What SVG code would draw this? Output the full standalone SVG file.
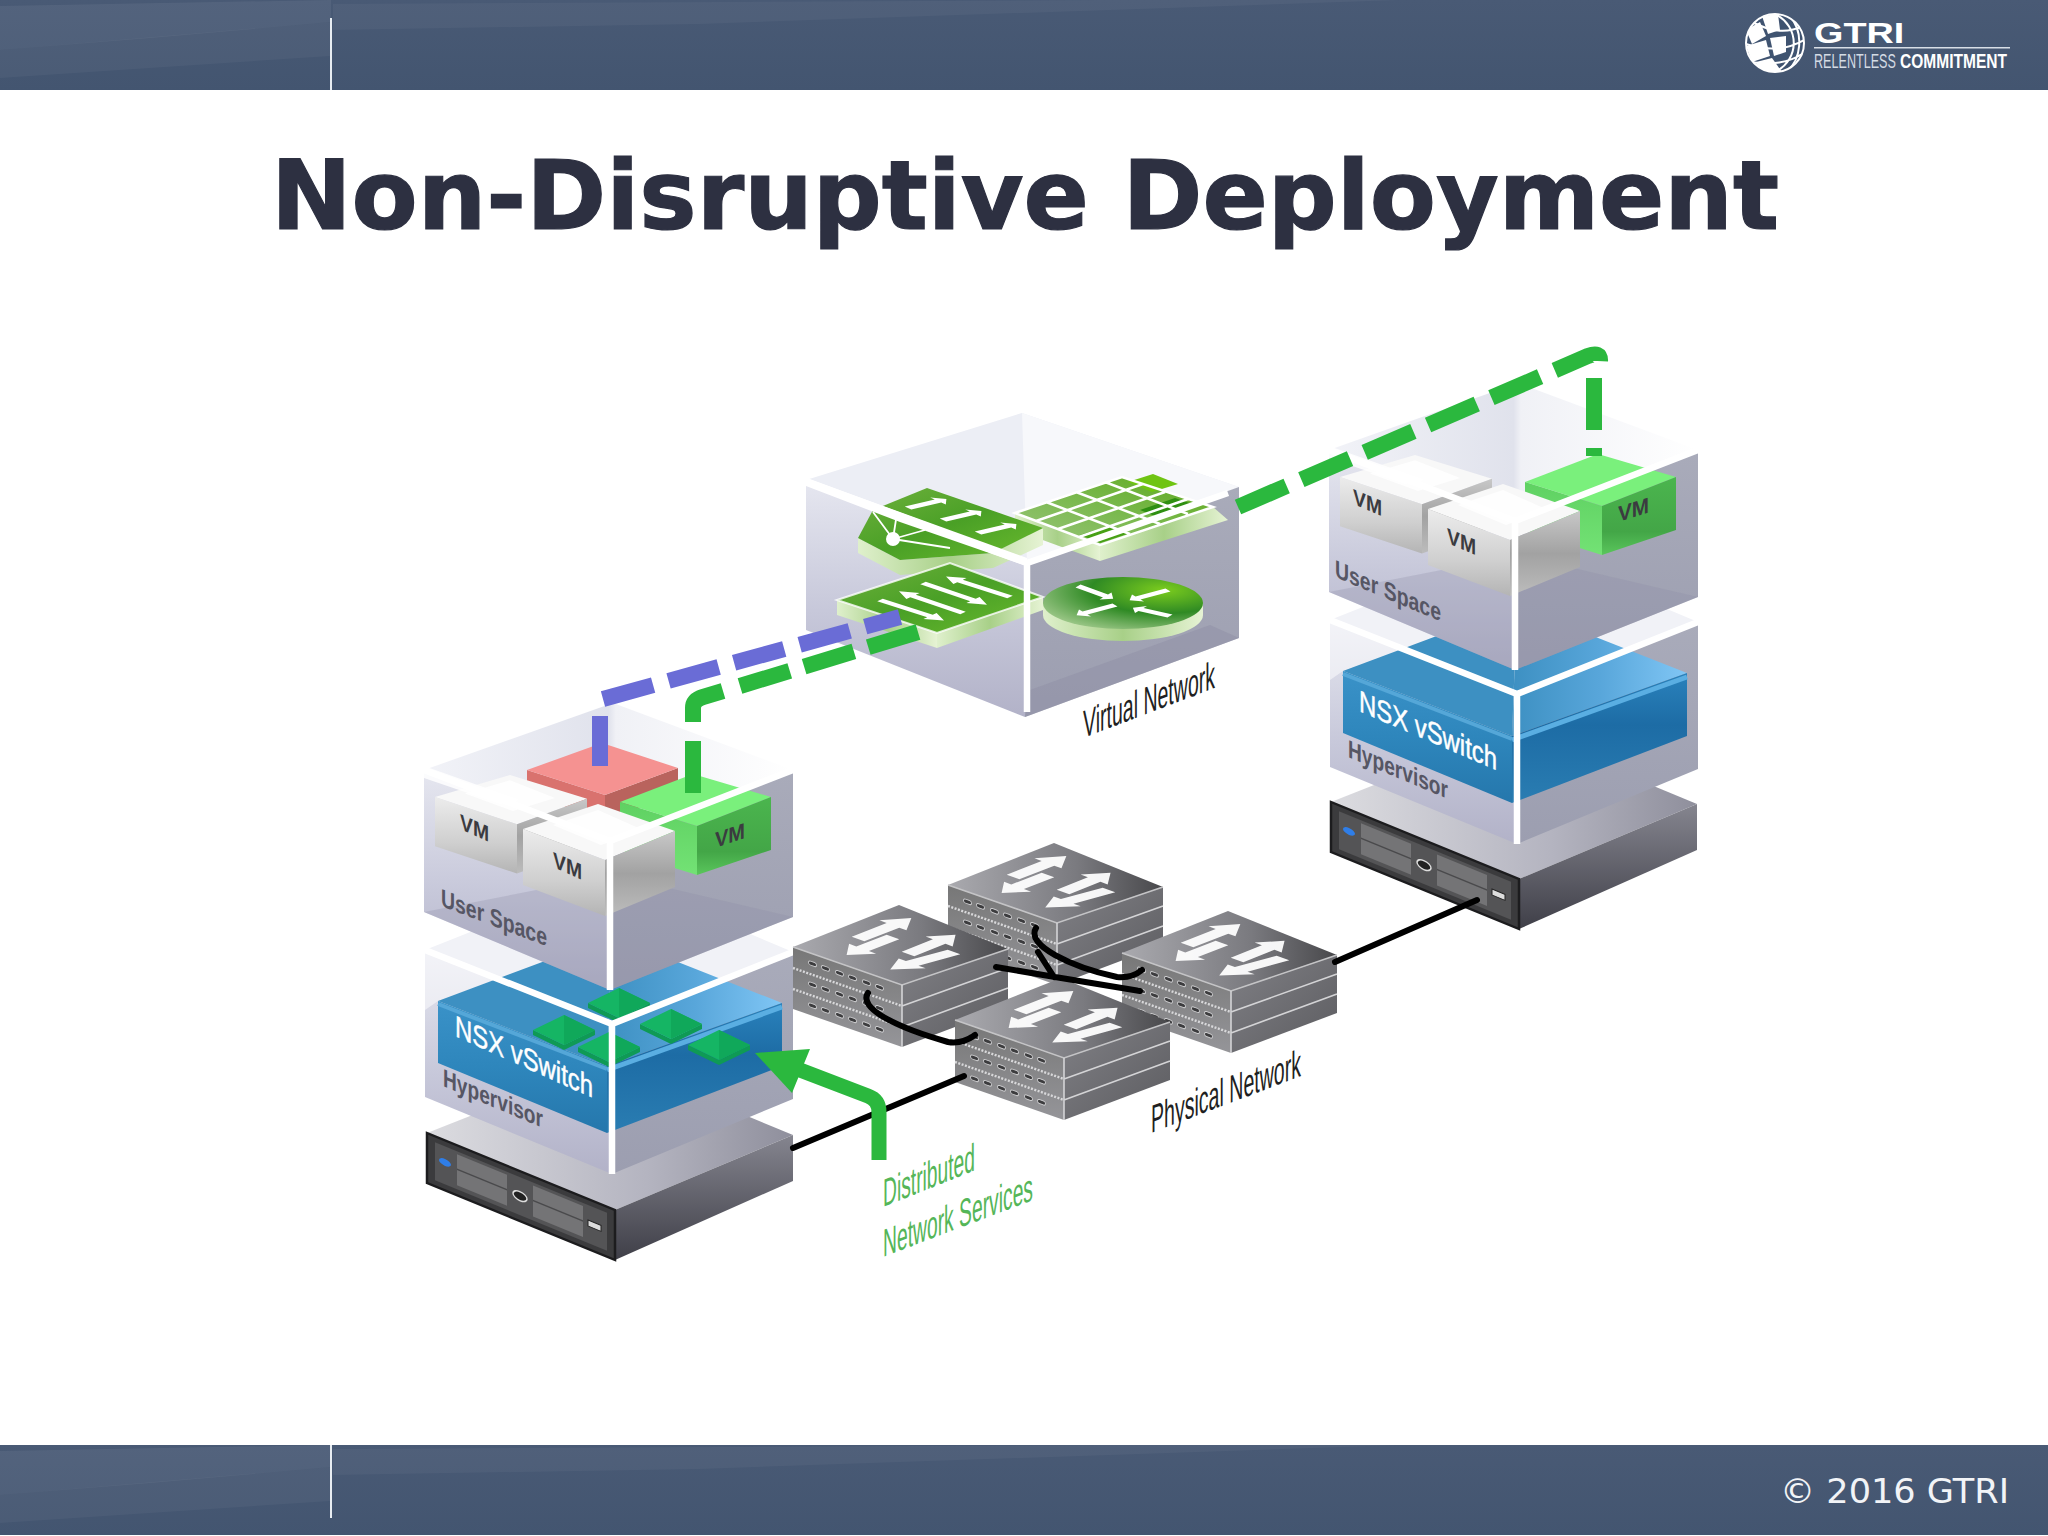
<svg xmlns="http://www.w3.org/2000/svg" xmlns:xlink="http://www.w3.org/1999/xlink" width="2048" height="1536" viewBox="0 0 2048 1536">
<style>
.s{font-family:"Liberation Sans",Arial,sans-serif}
.lab{font-weight:bold;fill:#565664;font-size:25px}
.vm{font-weight:bold;fill:#3b3b40;font-size:22px}
.nsx{fill:#fff;stroke:#fff;stroke-width:.5;font-size:30px}
.iso{fill:#1f1f22;font-size:39px}
.grn{fill:#55b658;font-size:39px}
.wl{fill:none;stroke:#fff;stroke-width:6.5}
.ws{fill:none;stroke:#fff}
.cable{fill:none;stroke:#000;stroke-width:6;stroke-linecap:round}
.dg{fill:none;stroke:#2bb83e;stroke-width:16}
.db{fill:none;stroke:#6a6cd6;stroke-width:16}
.gfont{font-family:"DejaVu Sans",Verdana,sans-serif}
</style>
<defs>
<linearGradient id="bar" x1="0" y1="0" x2="0" y2="1"><stop offset="0" stop-color="#495a75"/><stop offset="1" stop-color="#435570"/></linearGradient>
<linearGradient id="glassL" x1="0" y1="0" x2="0" y2="1"><stop offset="0" stop-color="#e6e7f0"/><stop offset=".55" stop-color="#c7c8da"/><stop offset="1" stop-color="#b2b2c8"/></linearGradient>
<linearGradient id="glassR" x1="0" y1="0" x2="0" y2="1"><stop offset="0" stop-color="#a9abba"/><stop offset="1" stop-color="#9c9eb0"/></linearGradient>
<linearGradient id="glassT" x1="0" y1="0" x2="1" y2="0"><stop offset="0" stop-color="#f2f3f8"/><stop offset=".5" stop-color="#e0e2ec"/><stop offset=".52" stop-color="#f0f1f6"/><stop offset="1" stop-color="#fff"/></linearGradient>
<linearGradient id="vmL" x1="0" y1="0" x2="0" y2="1"><stop offset="0" stop-color="#ececec"/><stop offset=".6" stop-color="#cfcfcf"/><stop offset="1" stop-color="#b4b4b4"/></linearGradient>
<linearGradient id="vmR" x1="0" y1="0" x2="0" y2="1"><stop offset="0" stop-color="#c8c8c8"/><stop offset=".5" stop-color="#a2a2a2"/><stop offset="1" stop-color="#bcbcbc"/></linearGradient>
<linearGradient id="gL" x1="0" y1="0" x2="0" y2="1"><stop offset="0" stop-color="#5fd162"/><stop offset="1" stop-color="#73e275"/></linearGradient>
<linearGradient id="gR" x1="0" y1="0" x2="0" y2="1"><stop offset="0" stop-color="#4bb54e"/><stop offset=".7" stop-color="#43a647"/><stop offset="1" stop-color="#5ac65c"/></linearGradient>
<linearGradient id="blueL" x1="0" y1="0" x2="0" y2="1"><stop offset="0" stop-color="#3a92c8"/><stop offset=".5" stop-color="#2e86bc"/><stop offset="1" stop-color="#2577ac"/></linearGradient>
<linearGradient id="blueR" x1="0" y1="0" x2="0" y2="1"><stop offset="0" stop-color="#2a82bc"/><stop offset=".4" stop-color="#1d6ca5"/><stop offset="1" stop-color="#2a7db2"/></linearGradient>
<linearGradient id="blueT" x1="0" y1="0" x2="1" y2="0"><stop offset="0" stop-color="#3d90c2"/><stop offset=".5" stop-color="#58a6da"/><stop offset="1" stop-color="#80c6f5"/></linearGradient>
<linearGradient id="srvT" x1="0" y1="0" x2="1" y2="0"><stop offset="0" stop-color="#dcdce0"/><stop offset=".6" stop-color="#b4b4c0"/><stop offset="1" stop-color="#8f8f9c"/></linearGradient>
<linearGradient id="srvR" x1="0" y1="0" x2="0" y2="1"><stop offset="0" stop-color="#85858f"/><stop offset="1" stop-color="#3f3f48"/></linearGradient>
<linearGradient id="swT" x1="0" y1="0" x2="1" y2="0"><stop offset="0" stop-color="#aaaaaf"/><stop offset=".6" stop-color="#7a7a7f"/><stop offset="1" stop-color="#48484b"/></linearGradient>
<linearGradient id="swL" x1="0" y1="0" x2="0" y2="1"><stop offset="0" stop-color="#777"/><stop offset="1" stop-color="#959599"/></linearGradient>
<linearGradient id="swR" x1="0" y1="0" x2="1" y2="1"><stop offset="0" stop-color="#808085"/><stop offset="1" stop-color="#5c5c60"/></linearGradient>
<linearGradient id="lime" x1="0" y1="0" x2="1" y2="0"><stop offset="0" stop-color="#dff0cc"/><stop offset=".5" stop-color="#a8d088"/><stop offset="1" stop-color="#e6f3d4"/></linearGradient>
<linearGradient id="leaf" x1="0" y1="0" x2="1" y2="1"><stop offset="0" stop-color="#6fb13d"/><stop offset=".5" stop-color="#4aa026"/><stop offset="1" stop-color="#6bbb2e"/></linearGradient>
<linearGradient id="leaf2" x1="0" y1="1" x2="1" y2="0"><stop offset="0" stop-color="#9ac57c"/><stop offset=".5" stop-color="#7ab94e"/><stop offset="1" stop-color="#5ca81a"/></linearGradient>
<radialGradient id="disc" cx=".75" cy=".25" r=".9"><stop offset="0" stop-color="#7bcc1e"/><stop offset=".5" stop-color="#2f8a24"/><stop offset="1" stop-color="#a5cc90"/></radialGradient>
<clipPath id="gl"><circle cx="1775" cy="43" r="29"/></clipPath>

<g id="band">
<rect width="2048" height="90" fill="url(#bar)"/>
<polygon points="0,6 331,0 331,22 150,38 0,50" fill="#fff" opacity=".06"/>
<polygon points="0,50 331,22 331,56 120,70 0,78" fill="#fff" opacity=".04"/>
<polygon points="333,4 1100,0 1400,0 700,24 333,30" fill="#fff" opacity=".04"/>
</g>

<g id="vmGray">
<polygon points="0,0 75,-25 152,2 82,31" fill="#f8f8f8"/>
<polygon points="30,-4 75,-19 120,1 78,16" fill="#fefefe"/>
<polygon points="0,0 82,31 82,87 0,56" fill="url(#vmL)"/>
<polygon points="82,31 152,2 152,58 82,87" fill="url(#vmR)"/>
</g>
<g id="vmGreen">
<polygon points="620,802 693,774 771,797 697,826" fill="#7af07c"/>
<polygon points="620,802 697,826 697,875 620,851" fill="url(#gL)"/>
<polygon points="697,826 771,797 771,850 697,875" fill="url(#gR)"/>
</g>
<g id="userBack">
<polygon points="424,770 613,703 793,770 610,841" fill="url(#glassT)"/>
<polygon points="424,770 610,841 610,990 424,912" fill="url(#glassL)"/>
<polygon points="793,770 610,841 610,990 793,917" fill="url(#glassR)"/>
<polygon points="424,912 613,875 793,917 610,990" fill="#8b8ca6" opacity=".28"/>
</g>
<g id="userFront">
<polygon points="424,766 520,800 500,804 424,778" fill="#fff" opacity=".85"/>
<path class="wl" d="M424,770 L610,841 L793,770 M610,841 V990"/>
</g>
<g id="hyperBack">
<polygon points="425,950 612,876 793,952 612,1024" fill="#f1f2f7"/>
<polygon points="425,950 612,1024 612,1174 425,1097" fill="url(#glassL)"/>
<polygon points="793,952 612,1024 612,1174 793,1099" fill="url(#glassR)"/>
<polygon points="425,950 500,980 438,1001 425,1010" fill="#fff" opacity=".5"/>
<polygon points="438,1001 612,936 607,1066" fill="#3d90c2"/>
<polygon points="612,936 782,1003 607,1066" fill="url(#blueT)"/>
<polygon points="438,1001 607,1066 607,1133 438,1063" fill="url(#blueL)"/>
<polygon points="607,1066 782,1003 782,1066 607,1133" fill="url(#blueR)"/>
<path d="M607,1070 L782,1007" fill="none" stroke="#5aaee2" stroke-width="5"/>
<path d="M438,1004 L607,1069" fill="none" stroke="#55a7d8" stroke-width="4"/>
</g>
<g id="hyperFront">
<path class="wl" d="M425,950 L612,1024 L793,952 M612,1024 V1174"/>
</g>
<g id="server">
<polygon points="427,1133 612,1060 793,1135 615,1210" fill="url(#srvT)"/>
<polygon points="615,1210 793,1135 793,1181 615,1260" fill="url(#srvR)"/>
<g transform="matrix(1 .41 0 1 427 1133)">
<rect width="188" height="50" fill="#3b3b3d" stroke="#1c1c1e" stroke-width="2.5"/>
<rect x="8" y="6" width="172" height="38" fill="#545456"/>
<rect x="30" y="9" width="50" height="31" fill="#747476"/>
<rect x="106" y="9" width="50" height="31" fill="#747476"/>
<path d="M30,24 H80 M106,24 H156" stroke="#4a4a4c" stroke-width="1.5"/>
<ellipse cx="18" cy="22" rx="6" ry="3.5" fill="#2f7ee8"/>
<ellipse cx="93" cy="25" rx="7" ry="4.5" fill="#222" stroke="#ddd" stroke-width="1.5"/>
<rect x="161" y="21" width="13" height="6" fill="#ddd" stroke="#222"/>
</g>
</g>
<g id="tile">
<polygon points="0,0 31,15 62,0 62,5 31,20 0,5" fill="#0f9a55"/>
<polygon points="0,0 31,-15 62,0 31,15" fill="#15b564"/>
<polygon points="31,-15 62,0 31,15" fill="#10a85a"/>
</g>
<path id="fat" d="M0,-7 H38 V-15 L58,0 L38,15 V7 H0Z" fill="#fff" opacity=".94"/>
<g id="port"><rect x="-3.5" y="-2" width="8" height="4" rx="2" fill="#3c3c3e" stroke="#cfcfd1" stroke-width=".9"/></g>
<g id="portrow">
<use href="#port" x="19"/><use href="#port" x="32"/><use href="#port" x="46"/><use href="#port" x="59"/><use href="#port" x="73"/><use href="#port" x="86"/>
</g>
<g id="sw">
<polygon points="0,0 109,38 109,100 0,62" fill="url(#swL)"/>
<polygon points="109,38 215,2 215,60 109,100" fill="url(#swR)"/>
<polygon points="0,0 106,-42 215,2 109,38" fill="url(#swT)"/>
<path d="M0,0 L109,38 L215,2" fill="none" stroke="#c4c4c6" stroke-width="1.6"/>
<path d="M109,38 V100 M109,59 L215,21 M109,80 L215,41" fill="none" stroke="#d4d4d6" stroke-width="1.6"/>
<path d="M0,21 L109,59 M0,42 L109,80" fill="none" stroke="#d8d8da" stroke-width="2.4" stroke-dasharray="2 1.5"/>
<g transform="matrix(1 .35 0 1 0 0)">
<use href="#portrow" y="10"/><use href="#portrow" y="31"/><use href="#portrow" y="52"/>
</g>
<use href="#fat" transform="matrix(.92 -.36 .9 .33 65 -8)"/>
<use href="#fat" transform="matrix(.82 -.33 .9 .33 115 7)"/>
<use href="#fat" transform="matrix(-.8 .31 .9 .33 100 -10)"/>
<use href="#fat" transform="matrix(-1.1 .3 .9 .33 161 5)"/>
</g>
<path id="thin" d="M0,-2.5 H50 V-6 L64,0 L50,6 V2.5 H0Z" fill="#fff"/>
</defs>

<rect width="2048" height="1536" fill="#fff"/>

<g id="header">
<use href="#band"/>
<rect x="330" y="18" width="2" height="72" fill="#e8edf2"/>
<g id="logo">
<circle cx="1775" cy="43" r="29" fill="#3f5370" stroke="#fff" stroke-width="2"/>
<g clip-path="url(#gl)">
<polygon points="1746,30 1760,22 1766,36 1752,44" fill="#fff"/>
<polygon points="1762,16 1778,14 1780,30 1768,34" fill="#fff"/>
<polygon points="1746,46 1766,40 1770,56 1752,62" fill="#fff"/>
<polygon points="1770,38 1786,36 1786,52 1774,56" fill="#fff"/>
<polygon points="1756,62 1772,58 1782,72 1760,72" fill="#fff"/>
<path d="M1775,14 C1800,26 1800,60 1775,72 M1752,22 C1775,34 1790,32 1804,26 M1746,44 C1770,52 1790,48 1804,40 M1752,62 C1770,66 1790,62 1802,54 M1790,16 C1805,34 1800,60 1788,70" fill="none" stroke="#fff" stroke-width="2"/>
</g>
</g>
<text class="s" transform="translate(1814 43) scale(1.26 1)" font-size="30" font-weight="bold" fill="#fff">GTRI</text>
<rect x="1814" y="47" width="196" height="1.5" fill="#d8dee6"/>
<text class="s" transform="translate(1814 68) scale(.6 1)" font-size="21" fill="#d4dbe4">RELENTLESS</text>
<text class="s" transform="translate(1900 68) scale(.74 1)" font-size="21" font-weight="bold" fill="#fff">COMMITMENT</text>
</g>

<g id="footer">
<use href="#band" y="1445"/>
<rect x="330" y="1445" width="2" height="73" fill="#e8edf2"/>
<text class="gfont" x="1780" y="1503" font-size="34" fill="#f2f4f7" textLength="229" lengthAdjust="spacingAndGlyphs">© 2016 GTRI</text>
</g>

<text id="title" class="gfont" x="271" y="229" font-size="96" font-weight="bold" fill="#2d3041" stroke="#2d3041" stroke-width="1.2" textLength="1508" lengthAdjust="spacingAndGlyphs">Non-Disruptive Deployment</text>

<g id="virtual-network">
<polygon points="806,480 1022,413 1239,487 1027,563" fill="#eceef5"/>
<polygon points="1022,413 1239,487 1027,563" fill="#f7f8fb"/>
<polygon points="806,480 1027,563 1025,717 806,630" fill="url(#glassL)"/>
<polygon points="1239,487 1027,563 1025,717 1239,638" fill="url(#glassR)"/>
<polygon points="1025,717 1239,638 1210,625 1030,690" fill="#8f90a5" opacity=".5"/>
<g id="vn-table">
<polygon points="1015,513 1100,545 1100,561 1015,530" fill="url(#lime)"/>
<polygon points="1100,545 1213,507 1228,520 1100,561" fill="url(#lime)"/>
<polygon points="1015,513 1122,477 1213,507 1100,545" fill="url(#leaf2)"/>
<polygon points="1128,482 1153,474 1178,484 1152,492" fill="#6fc412"/>
<polygon points="1140,510 1175,498 1195,505 1160,518" fill="#2f8f12"/>
<polygon points="1080,535 1110,525 1130,533 1100,543" fill="#47a015"/>
<path d="M1015,513 L1122,477 L1213,507 L1100,545 Z M1046,502 L1130,534 M1076,492 L1160,524 M1105,482 L1188,514 M1036,521 L1143,484 M1058,529 L1165,492 M1079,537 L1188,499" class="ws" stroke-width="2.5"/>
</g>
<g id="vn-firewall">
<polygon points="858,538 900,560 993,553 1043,528 1043,545 993,568 900,575 858,553" fill="url(#lime)"/>
<polygon points="858,538 873,510 927,488 1043,528 993,553 900,560" fill="url(#leaf)"/>
<path d="M893,539 L897,513 M893,539 L873,512 M893,539 L925,530 M893,539 L950,548" class="ws" stroke-width="1.8"/>
<circle cx="893" cy="539" r="7" fill="#fff"/>
<use href="#thin" transform="matrix(.6 -.14 1.3 .6 908 508)"/>
<use href="#thin" transform="matrix(.6 -.14 1.3 .6 943 520)"/>
<use href="#thin" transform="matrix(.6 -.14 1.3 .6 978 533)"/>
</g>
<g id="vn-switch">
<polygon points="837,600 937,633 937,648 837,615" fill="url(#lime)"/>
<polygon points="937,633 1043,597 1043,610 937,648" fill="url(#lime)"/>
<polygon points="837,600 950,563 1043,597 937,633" fill="url(#leaf)"/>
<path d="M837,600 L950,563 L1043,597 L937,633 Z" class="ws" stroke-width="2" opacity=".8"/>
<use href="#thin" transform="matrix(1 .32 -1.1 .5 880 600)"/>
<use href="#thin" transform="matrix(-1 -.34 1.1 -.5 963 613)"/>
<use href="#thin" transform="matrix(1 .34 -1.1 .5 923 583)"/>
<use href="#thin" transform="matrix(-1 -.32 1.1 -.5 1010 597)"/>
</g>
<g id="vn-router">
<path d="M1043,603 V615 A80,26 0 0 0 1203,615 V603Z" fill="url(#lime)"/>
<ellipse cx="1123" cy="603" rx="80" ry="26" fill="url(#disc)"/>
<use href="#thin" transform="matrix(.55 .2 -1 .6 1078 586)"/>
<use href="#thin" transform="matrix(-.6 .16 -1 -.6 1168 590)"/>
<use href="#thin" transform="matrix(-.6 .16 -1 -.6 1115 605)"/>
<use href="#thin" transform="matrix(-.58 -.13 1 -.6 1170 616)"/>
</g>
<polygon points="806,478 1027,558 1027,566 900,522 806,486" fill="#fff"/>
<path class="wl" d="M806,481 L1027,563 L1228,493 M1027,563 V712"/>
<text class="s iso" transform="matrix(1 -.38 0 1 1083 738)" textLength="132" lengthAdjust="spacingAndGlyphs">Virtual Network</text>
</g>

<g id="host-left">
<use href="#server"/>
<use href="#hyperBack"/>
<use href="#tile" x="588" y="1003"/><use href="#tile" x="533" y="1030"/><use href="#tile" x="640" y="1024"/><use href="#tile" x="688" y="1045"/><use href="#tile" x="578" y="1047"/>
<use href="#hyperFront"/>
<text class="s lab" transform="matrix(1 .42 0 1 443 1086)" textLength="100" lengthAdjust="spacingAndGlyphs">Hypervisor</text>
<text class="s nsx" transform="matrix(1 .45 0 1 455 1036)" textLength="138" lengthAdjust="spacingAndGlyphs">NSX vSwitch</text>
<use href="#userBack"/>
<g id="vm-red">
<polygon points="527,770 605,795 605,820 527,795" fill="#d9726e"/>
<polygon points="605,795 678,768 678,793 605,820" fill="#b9635d"/>
<polygon points="527,770 602,743 678,768 605,795" fill="#f59291"/>
</g>
<use href="#vmGreen"/>
<g transform="translate(435 797) scale(1 .88)"><use href="#vmGray"/></g>
<use href="#vmGray" x="523" y="829"/>
<use href="#userFront"/>
<text class="s vm" transform="matrix(1 .45 0 1 460 829)" textLength="29" lengthAdjust="spacingAndGlyphs">VM</text>
<text class="s vm" transform="matrix(1 .45 0 1 553 867)" textLength="29" lengthAdjust="spacingAndGlyphs">VM</text>
<text class="s vm" transform="matrix(1 -.33 0 1 715 848)" textLength="30" lengthAdjust="spacingAndGlyphs">VM</text>
<text class="s lab" transform="matrix(1 .38 0 1 441 906)" textLength="106" lengthAdjust="spacingAndGlyphs">User Space</text>
</g>

<g id="host-right">
<use href="#server" transform="translate(904 -331)"/>
<use href="#hyperBack" transform="translate(905 -330)"/>
<use href="#hyperFront" transform="translate(905 -330)"/>
<text class="s lab" transform="matrix(1 .42 0 1 1348 757)" textLength="100" lengthAdjust="spacingAndGlyphs">Hypervisor</text>
<text class="s nsx" transform="matrix(1 .43 0 1 1359 711)" textLength="138" lengthAdjust="spacingAndGlyphs">NSX vSwitch</text>
<use href="#userBack" transform="translate(905 -320)"/>
<use href="#vmGreen" transform="translate(905 -320)"/>
<g transform="translate(1340 477) scale(1 .88)"><use href="#vmGray"/></g>
<use href="#vmGray" x="1428" y="509"/>
<use href="#userFront" transform="translate(905 -320)"/>
<text class="s vm" transform="matrix(1 .42 0 1 1353 504)" textLength="29" lengthAdjust="spacingAndGlyphs">VM</text>
<text class="s vm" transform="matrix(1 .42 0 1 1447 543)" textLength="29" lengthAdjust="spacingAndGlyphs">VM</text>
<text class="s vm" transform="matrix(1 -.31 0 1 1618 522)" textLength="31" lengthAdjust="spacingAndGlyphs">VM</text>
<text class="s lab" transform="matrix(1 .42 0 1 1335 577)" textLength="106" lengthAdjust="spacingAndGlyphs">User Space</text>
</g>

<g id="physical-network">
<use id="switch-back" href="#sw" x="948" y="885"/>
<use id="switch-left" href="#sw" x="793" y="947"/>
<use id="switch-right" href="#sw" x="1122" y="953"/>
<use id="switch-front" href="#sw" x="955" y="1020"/>
<text class="s iso" transform="matrix(1 -.38 0 1 1151 1133)" textLength="150" lengthAdjust="spacingAndGlyphs">Physical Network</text>
</g>

<g id="connectors">
<path class="cable" d="M793,1148 L964,1076"/>
<path class="cable" d="M1335,962 L1477,900"/>
<path class="cable" d="M868,993 C858,1008 895,1027 948,1042 C960,1044 968,1040 975,1035"/>
<path class="cable" d="M1036,928 C1025,945 1071,967 1117,977 C1128,978 1136,975 1142,970"/>
<path class="cable" d="M996,967 L1055,977 L1140,991 M1038,952 L1054,977"/>
<path class="db" d="M600,766 V716"/>
<path class="db" d="M603,699 L900,617" stroke-dasharray="52 16"/>
<path class="dg" d="M693,793 V741"/>
<path class="dg" stroke-linejoin="round" d="M693,722 V708 Q693,700 703,697 L723,691"/>
<path class="dg" d="M740,686 L918,632" stroke-dasharray="52 15"/>
<path class="dg" d="M1238,507 L1588,356 Q1601,351 1600,362" stroke-dasharray="53 16"/>
<path class="dg" d="M1594,378 V430 M1594,448 V456"/>
<path d="M879,1160 V1112 Q879,1100 868,1096 L800,1070" fill="none" stroke="#2bb83e" stroke-width="15"/>
<polygon points="755,1053 810,1049 792,1093" fill="#2bb83e"/>
</g>

<g id="label-services">
<text class="s grn" transform="matrix(1 -.4 0 1 883 1207)" textLength="92" lengthAdjust="spacingAndGlyphs">Distributed</text>
<text class="s grn" transform="matrix(1 -.38 0 1 883 1257)" textLength="150" lengthAdjust="spacingAndGlyphs">Network Services</text>
</g>
</svg>
